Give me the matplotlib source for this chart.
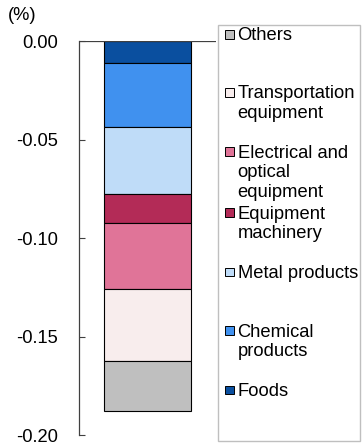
import matplotlib
matplotlib.use('Agg')
from matplotlib import pyplot as plt
from matplotlib.patches import Rectangle
import numpy as np

plt.rcParams['font.family'] = ['Liberation Sans', 'DejaVu Sans']

# contributions, top (nearest 0) to bottom
categories = ['Foods', 'Chemical\nproducts', 'Metal products', 'Equipment\nmachinery',
              'Electrical and\noptical\nequipment', 'Transportation\nequipment', 'Others']
values = [-0.011, -0.0327, -0.0342, -0.0143, -0.0337, -0.0367, -0.0253]
colors = ['#0a4f9f', '#4091ef', '#bfdcf8', '#b32b57', '#e07498', '#f8eded', '#bfbfbf']
yticks = [0.00, -0.05, -0.10, -0.15, -0.20]

FS = 13.2
fig = plt.figure(figsize=(3.62, 4.48), dpi=100)
ax = fig.add_axes([79/362, 1-435/448, 137/362, 394/448])

bottom = 0.0
for v, c in zip(values, colors):
    ax.bar(0.5, v, bottom=bottom, width=0.63, color=c, edgecolor='black', linewidth=0.8, zorder=2)
    bottom += v

ax.axhline(0, color='#404040', linewidth=0.9, zorder=3)
ax.set_xlim(0, 1)
ax.set_ylim(-0.20, 0.0)
ax.set_yticks(yticks)
ax.set_yticklabels(['%.2f' % t for t in yticks], fontsize=FS)
ax.tick_params(axis='y', direction='in', length=4, color='#404040', pad=15)
ax.set_xticks([])
for s in ['top', 'right', 'bottom']:
    ax.spines[s].set_visible(False)
ax.spines['left'].set_color('#404040')
ax.spines['left'].set_linewidth(0.9)
ax.patch.set_alpha(0)

fig.text(8/362, 1-15/448, '(%)', fontsize=FS, va='center', ha='left')

# legend box
W, H = 362, 448
fig.patches.append(Rectangle((218/W, 1-441/H), 142/W, 416/H, transform=fig.transFigure,
                             facecolor='white', edgecolor='#bfbfbf', linewidth=1.0, zorder=0))
# legend entries, reversed order (Others at top)
leg_y = [390, 331, 272, 213, 152, 93, 35]
for cat, c, y in zip(categories, colors, leg_y):
    fig.patches.append(Rectangle((225/W, 1-(y+4)/H), 8.5/W, 8.5/H, transform=fig.transFigure,
                                 facecolor=c, edgecolor='black', linewidth=0.7))
    fig.text(237.5/W, 1-(y-7.5)/H, cat, fontsize=FS, va='top', ha='left',
             linespacing=1.2, transform=fig.transFigure)

fig.savefig('out.png', dpi=100)
